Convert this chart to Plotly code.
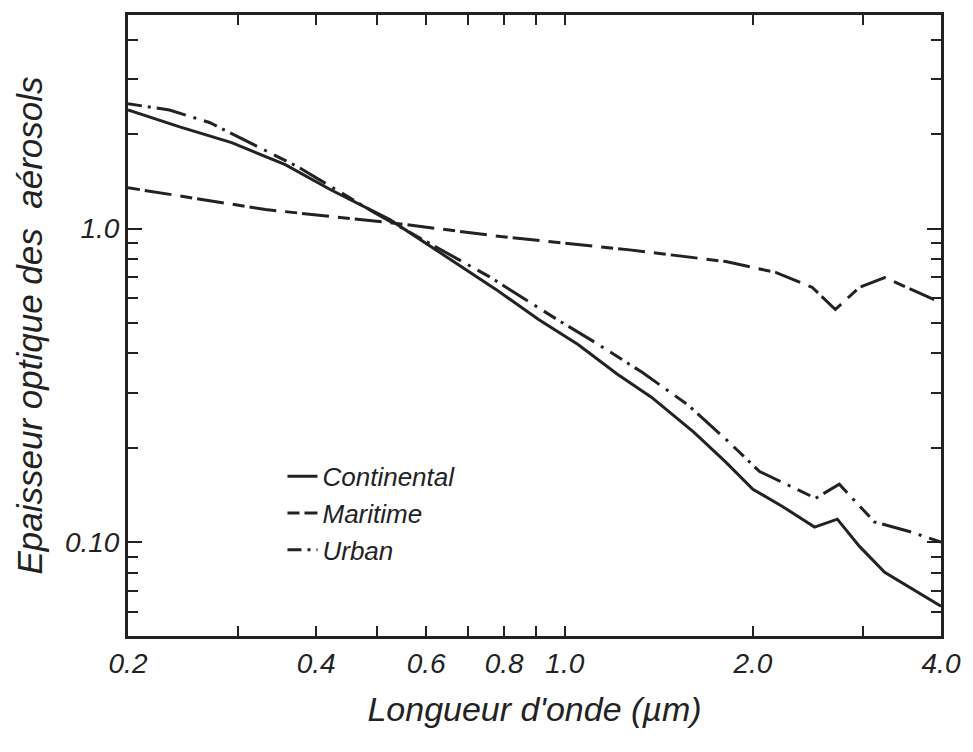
import math
import plotly.graph_objects as go

# Wavelength (µm) and aerosol optical thickness
cont_x = [0.2, 0.242, 0.293, 0.357, 0.422, 0.525, 0.776, 0.908, 1.05, 1.214, 1.376, 1.61, 1.81, 2.0, 2.23, 2.51, 2.73, 2.96, 3.25, 4.0]
cont_y = [2.39, 2.11, 1.88, 1.60, 1.33, 1.068, 0.64, 0.513, 0.427, 0.343, 0.290, 0.224, 0.180, 0.1475, 0.130, 0.1117, 0.1184, 0.0971, 0.0802, 0.0625]

mar_x = [0.2, 0.332, 0.525, 0.79, 1.26, 1.81, 2.18, 2.49, 2.71, 2.96, 3.25, 4.0]
mar_y = [1.35, 1.15, 1.045, 0.943, 0.857, 0.785, 0.724, 0.649, 0.552, 0.649, 0.698, 0.581]

urb_x = [0.2, 0.233, 0.27, 0.374, 0.496, 0.757, 0.972, 1.117, 1.33, 1.57, 1.81, 2.05, 2.52, 2.75, 3.13, 3.59, 4.0]
urb_y = [2.50, 2.39, 2.18, 1.575, 1.124, 0.703, 0.513, 0.434, 0.348, 0.275, 0.213, 0.168, 0.138, 0.153, 0.116, 0.1076, 0.100]

series_names = ["Continental", "Maritime", "Urban"]

x_major = [0.2, 0.4, 0.6, 0.8, 1.0, 2.0, 4.0]
x_major_text = ["0.2", "0.4", "0.6", "0.8", "1.0", "2.0", "4.0"]
x_minor = [0.3, 0.5, 0.7, 0.9, 3.0]
y_major = [0.1, 1.0]
y_major_text = ["0.10", "1.0"]
y_minor = [0.06, 0.07, 0.08, 0.09, 0.2, 0.3, 0.4, 0.5, 0.6, 0.7, 0.8, 0.9, 2, 3, 4]

INK = "#222222"
FONT = "Liberation Sans Narrow, Liberation Sans, DejaVu Sans Condensed, sans-serif"

fig = go.Figure()
fig.add_trace(go.Scatter(x=cont_x, y=cont_y, mode="lines", name=series_names[0],
                         line=dict(color=INK, width=3, dash="solid")))
fig.add_trace(go.Scatter(x=mar_x, y=mar_y, mode="lines", name=series_names[1],
                         line=dict(color=INK, width=3, dash="12px,5px,27px,9px")))
fig.add_trace(go.Scatter(x=urb_x, y=urb_y, mode="lines", name=series_names[2],
                         line=dict(color=INK, width=3, dash="14px,6px,3px,6px,30px,8px,3px,8px")))

fig.update_layout(
    width=973, height=752, autosize=False,
    margin=dict(l=128, r=23, t=15, b=116),
    paper_bgcolor="white", plot_bgcolor="white",
    font=dict(family=FONT, color=INK, style="italic"),
    showlegend=True,
    legend=dict(x=0.19, y=0.295, xanchor="left", yanchor="top",
                bgcolor="rgba(0,0,0,0)", font=dict(size=26, family=FONT, style="italic", color=INK),
                tracegroupgap=0, itemwidth=30),
    xaxis=dict(type="log", range=[math.log10(0.2), math.log10(4.0)],
               tickmode="array", tickvals=x_major, ticktext=x_major_text,
               ticks="inside", ticklen=10, tickwidth=2, tickcolor=INK,
               showline=True, linewidth=3, linecolor=INK, mirror="allticks",
               showgrid=False, zeroline=False,
               tickfont=dict(size=28, family=FONT, style="italic", color=INK),
               minor=dict(tickmode="array", tickvals=x_minor, ticks="inside",
                          ticklen=10, tickwidth=2, tickcolor=INK, showgrid=False),
               title=dict(text="Longueur d'onde (µm)", standoff=20,
                          font=dict(size=34, family=FONT, style="italic", color=INK))),
    yaxis=dict(type="log", range=[math.log10(0.0502), math.log10(4.8)],
               tickmode="array", tickvals=y_major, ticktext=y_major_text,
               ticks="inside", ticklen=14, tickwidth=2, tickcolor=INK,
               showline=True, linewidth=3, linecolor=INK, mirror="allticks",
               showgrid=False, zeroline=False,
               tickfont=dict(size=28, family=FONT, style="italic", color=INK),
               minor=dict(tickmode="array", tickvals=y_minor, ticks="inside",
                          ticklen=10, tickwidth=2, tickcolor=INK, showgrid=False),
               title=dict(text="Epaisseur optique des\u00a0\u00a0aérosols", standoff=12,
                          font=dict(size=35, family=FONT, style="italic", color=INK))),
)

fig.write_html("out.html")
